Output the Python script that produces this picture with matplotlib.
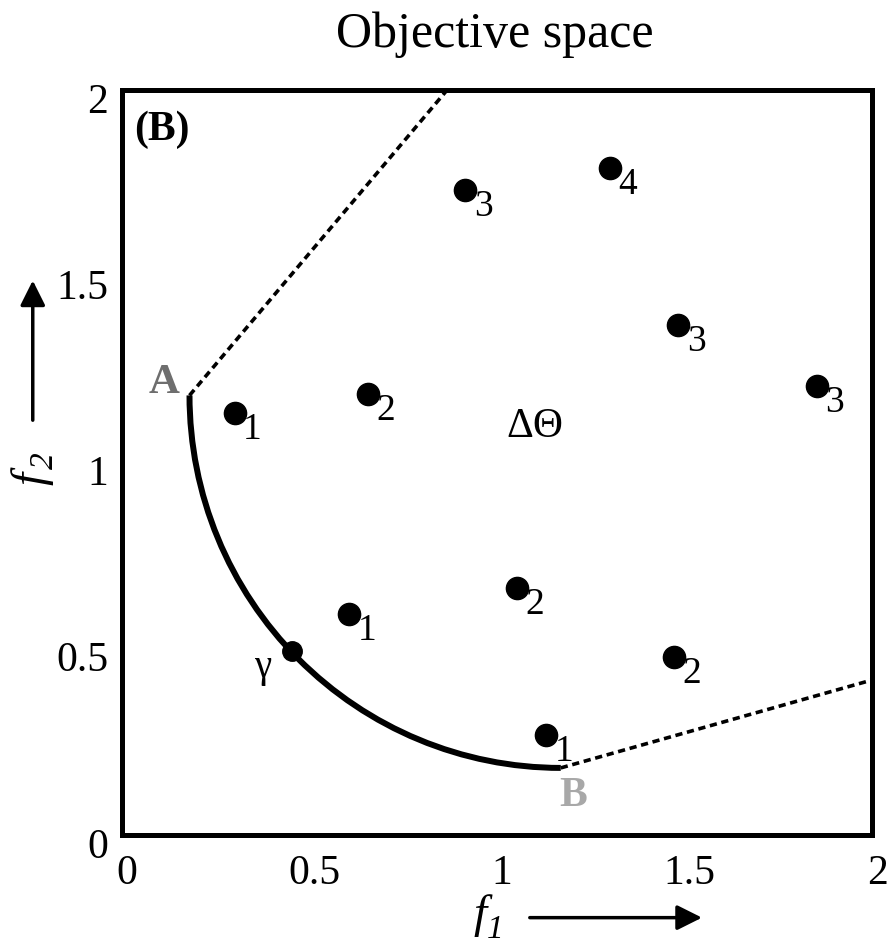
import matplotlib
matplotlib.use("Agg")
import matplotlib.pyplot as plt
from matplotlib.patches import Arc
from matplotlib.transforms import ScaledTranslation

plt.rcParams['font.family'] = ['Liberation Serif', 'DejaVu Serif']

# solutions in objective space and their rank labels
sol_f1 = [0.30, 0.656, 0.915, 1.301, 1.483, 1.853, 0.605, 1.053, 1.472, 1.131]
sol_f2 = [1.133, 1.184, 1.732, 1.791, 1.369, 1.205, 0.593, 0.663, 0.478, 0.268]
sol_rank = ["1", "2", "3", "4", "3", "3", "1", "2", "2", "1"]

# pareto front (quarter ellipse) end points A, B and point gamma
front_center = (1.17, 1.18)
front_rx = 0.99
front_ry = 1.0
point_A = (0.18, 1.18)
point_B = (1.17, 0.18)
gamma = (0.452, 0.494)

# dashed boundary lines
dash_A_end = (0.867, 2.0)
dash_B_end = (2.0, 0.416)

ticks = [0, 0.5, 1, 1.5, 2]
tick_labels = ["0", "0.5", "1", "1.5", "2"]

fig = plt.figure(figsize=(8.88, 9.5), dpi=100)
ax = fig.add_axes([0.1374, 0.1211, 0.8446, 0.7842])

ax.set_xlim(0, 2)
ax.set_ylim(0, 2)
for s in ax.spines.values():
    s.set_linewidth(3.6)

ax.set_xticks(ticks)
ax.set_xticklabels(tick_labels)
ax.set_yticks(ticks)
ax.set_yticklabels(tick_labels)
ax.tick_params(length=0, labelsize=30, pad=14)
ax.tick_params(axis='y', pad=10)
off = ScaledTranslation(0, -8 / 100, fig.dpi_scale_trans)
for lab in ax.get_yticklabels():
    lab.set_transform(lab.get_transform() + off)
offx = ScaledTranslation(5 / 100, 0, fig.dpi_scale_trans)
for lab in ax.get_xticklabels():
    lab.set_transform(lab.get_transform() + offx)

# dashed lines
ax.plot([point_A[0], dash_A_end[0]], [point_A[1], dash_A_end[1]],
        color='black', lw=2.6, linestyle=(0, (2.0, 1.3)))
ax.plot([point_B[0], dash_B_end[0]], [point_B[1], dash_B_end[1]],
        color='black', lw=2.6, linestyle=(0, (2.0, 1.3)))

# pareto front
front = Arc(front_center, 2 * front_rx, 2 * front_ry, theta1=180, theta2=270,
            color='black', lw=4.3)
ax.add_patch(front)

# solutions
ax.plot(sol_f1, sol_f2, 'o', color='black', ms=16, linestyle='none')
for x, y, r in zip(sol_f1, sol_f2, sol_rank):
    ax.annotate(r, (x, y), xytext=(13, -12), textcoords='offset points',
                ha='center', va='center', fontsize=27)

ax.plot([gamma[0]], [gamma[1]], 'o', color='black', ms=14)
ax.annotate("γ", gamma, xytext=(-21, -12), textcoords='offset points',
            ha='center', va='center', fontsize=28)

ax.annotate("A", point_A, xytext=(-18, 9), textcoords='offset points',
            ha='center', va='center', fontsize=31, fontweight='bold',
            color='#6e6e6e')
ax.annotate("B", point_B, xytext=(9, -20), textcoords='offset points',
            ha='center', va='center', fontsize=30, fontweight='bold',
            color='#a8a8a8')

ax.text(0.053, 0.947, "(B)", transform=ax.transAxes, ha='center', va='center',
        fontsize=30, fontweight='bold')
ax.text(1.1, 1.095, "ΔΘ", ha='center', va='center', fontsize=30)

fig.text(0.557, 0.963, "Objective space", ha='center', va='center', fontsize=36)

# axis labels with arrows (italic f with italic subscript)
ax.text(0.478, -0.108, "f", transform=ax.transAxes, style='italic',
        ha='center', va='center', fontsize=34)
ax.text(0.497, -0.127, "1", transform=ax.transAxes, style='italic',
        ha='center', va='center', fontsize=24)
ax.annotate("", xy=(0.777, -0.111), xytext=(0.54, -0.111), xycoords='axes fraction',
            arrowprops=dict(arrowstyle='-|>', color='black', lw=2.5, mutation_scale=38),
            annotation_clip=False)
ax.text(-0.12, 0.478, "f", transform=ax.transAxes, rotation=90, style='italic',
        ha='center', va='center', fontsize=34)
ax.text(-0.103, 0.502, "2", transform=ax.transAxes, rotation=90, style='italic',
        ha='center', va='center', fontsize=24)
ax.annotate("", xy=(-0.119, 0.748), xytext=(-0.119, 0.553), xycoords='axes fraction',
            arrowprops=dict(arrowstyle='-|>', color='black', lw=2.5, mutation_scale=38),
            annotation_clip=False)

fig.savefig("out.png", dpi=100)
